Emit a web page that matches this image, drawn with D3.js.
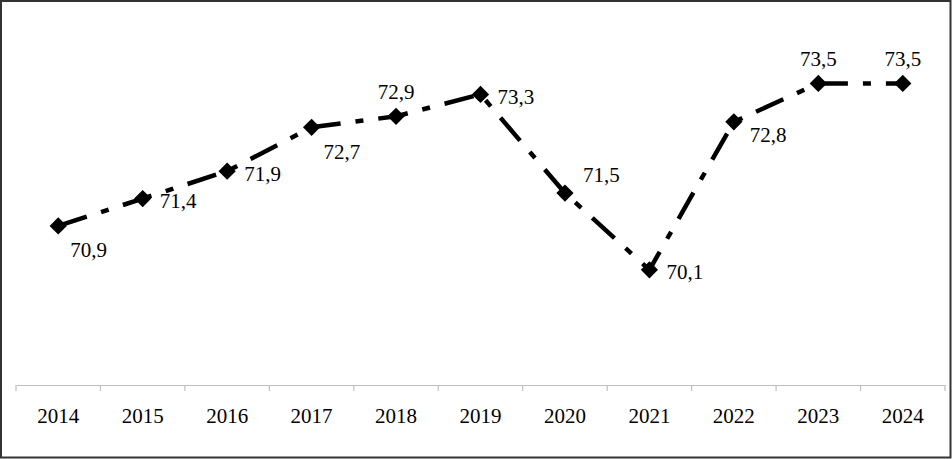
<!DOCTYPE html>
<html><head><meta charset="utf-8">
<script src="https://cdn.jsdelivr.net/npm/d3@7"></script>
<style>
html,body{margin:0;padding:0;background:#fff;}
svg{display:block;}
</style></head>
<body>
<script>
const years = ["2014","2015","2016","2017","2018","2019","2020","2021","2022","2023","2024"];
const values = [70.9,71.4,71.9,72.7,72.9,73.3,71.5,70.1,72.8,73.5,73.5];
const labels = ["70,9","71,4","71,9","72,7","72,9","73,3","71,5","70,1","72,8","73,5","73,5"];
// label placement relative to point (style only)
const placement = ["belowRight","right","right","belowRight","above","right","aboveRight","right","rightBelow","above","above"];

const FONT = "'Liberation Serif','Times New Roman',Tinos,'DejaVu Serif',serif";
const W = 952, H = 459;
const svg = d3.select("body").append("svg").attr("width", W).attr("height", H);
svg.append("rect").attr("x",1).attr("y",1).attr("width",W-2.5).attr("height",H-2.5)
  .attr("fill","#fff").attr("stroke","#333").attr("stroke-width",2);

const x = d3.scaleBand().domain(years).range([16, 945]);
const y = d3.scaleLinear().domain([68, 74]).range([385, 56]);
const axisY = y(68);

// axis
const ax = svg.append("g").attr("transform",`translate(0,${axisY})`)
  .call(d3.axisBottom(x).tickSize(0).tickPadding(23));
ax.attr("font-family", null).attr("font-size", null);
ax.select(".domain").attr("stroke","#bfbfbf").attr("stroke-width",1.2);
ax.selectAll("text").attr("fill","#000")
  .style("font-family", FONT).style("font-size","21px");
// boundary ticks
const bounds = years.map(d => x(d)).concat([x(years[years.length-1]) + x.bandwidth()]);
svg.append("g").selectAll("line").data(bounds).join("line")
  .attr("x1", d=>d).attr("x2", d=>d).attr("y1", axisY).attr("y2", axisY+6)
  .attr("stroke","#bfbfbf").attr("stroke-width",1.2);

const cx = d => x(d) + x.bandwidth()/2;
const pts = years.map((d,i)=>({year:d, v:values[i], lab:labels[i], pl:placement[i]}));

svg.append("path").datum(pts)
  .attr("d", d3.line().x(d=>cx(d.year)).y(d=>y(d.v)))
  .attr("fill","none").attr("stroke","#000").attr("stroke-width",4.5)
  .attr("stroke-dasharray","30,15,8,15");

svg.append("g").selectAll("path").data(pts).join("path")
  .attr("d", d3.symbol().type(d3.symbolDiamond2).size(190))
  .attr("transform", d=>`translate(${cx(d.year)},${y(d.v)})`)
  .attr("fill","#000");

const off = {
  belowRight:{dx:12, dy:24, anchor:"start"},
  right:{dx:17, dy:2, anchor:"start"},
  above:{dx:0, dy:-25, anchor:"middle"},
  aboveRight:{dx:18, dy:-18, anchor:"start"},
  rightBelow:{dx:16, dy:13, anchor:"start"}
};
svg.append("g").selectAll("text").data(pts).join("text")
  .attr("x", d=>cx(d.year)+off[d.pl].dx)
  .attr("y", d=>y(d.v)+off[d.pl].dy)
  .attr("dy","0.35em")
  .attr("text-anchor", d=>off[d.pl].anchor)
  .style("font-family", FONT).style("font-size","21px")
  .attr("fill","#000")
  .text(d=>d.lab);
</script>
</body></html>
